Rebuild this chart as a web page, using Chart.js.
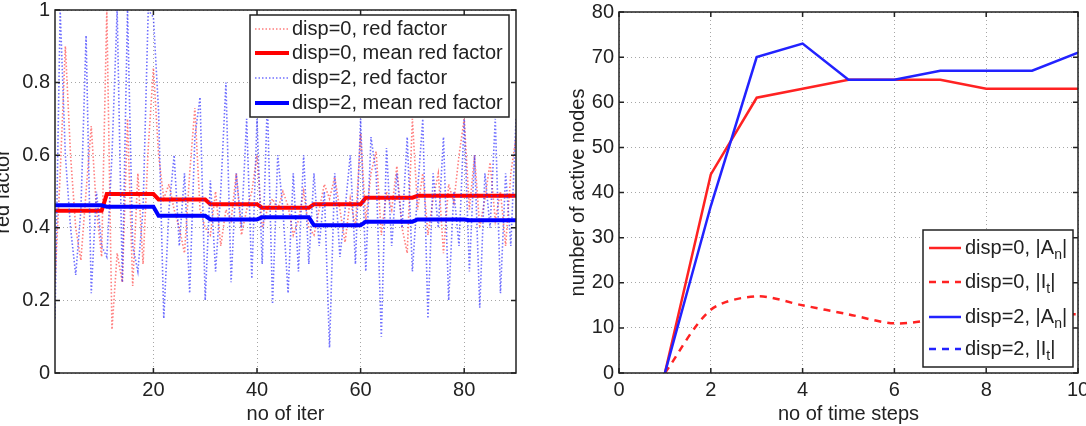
<!DOCTYPE html>
<html>
<head>
<meta charset="utf-8">
<script src="https://cdn.jsdelivr.net/npm/chart.js@4.4.0/dist/chart.umd.min.js"></script>
<style>
  body { margin: 0; background: #fff; }
  .panel { position: absolute; top: 0; }
  #left { left: 0; }
  #right { left: 540px; }
</style>
</head>
<body>
<div class="panel" id="left"><canvas id="chartLeft" width="540" height="426"></canvas></div>
<div class="panel" id="right"><canvas id="chartRight" width="546" height="426"></canvas></div>
<script>
// left panel: reduction factor per iteration
const iters = [
  1, 2, 3, 4, 5, 6, 7, 8, 9, 10, 11, 12, 13, 14, 15, 16, 17, 18, 19, 20,
  21, 22, 23, 24, 25, 26, 27, 28, 29, 30, 31, 32, 33, 34, 35, 36, 37, 38, 39, 40,
  41, 42, 43, 44, 45, 46, 47, 48, 49, 50, 51, 52, 53, 54, 55, 56, 57, 58, 59, 60,
  61, 62, 63, 64, 65, 66, 67, 68, 69, 70, 71, 72, 73, 74, 75, 76, 77, 78, 79, 80,
  81, 82, 83, 84, 85, 86, 87, 88, 89, 90,
];
const redFactor0 = [
  0.25, 0.55, 0.90, 0.60, 0.40, 0.31, 0.50, 0.68, 0.45, 0.32,
  1.00, 0.12, 0.33, 0.25, 0.70, 0.24, 0.55, 0.30, 0.62, 0.84,
  0.60, 0.48, 0.52, 0.45, 0.40, 0.33, 0.55, 0.73, 0.45, 0.40,
  0.38, 0.50, 0.35, 0.45, 0.42, 0.55, 0.38, 0.45, 0.50, 0.60,
  0.40, 0.45, 0.48, 0.45, 0.50, 0.46, 0.38, 0.42, 0.50, 0.40,
  0.38, 0.45, 0.52, 0.48, 0.54, 0.45, 0.36, 0.48, 0.40, 0.66,
  0.42, 0.55, 0.61, 0.38, 0.50, 0.45, 0.57, 0.40, 0.33, 0.70,
  0.45, 0.55, 0.38, 0.48, 0.55, 0.33, 0.52, 0.47, 0.60, 0.70,
  0.45, 0.60, 0.40, 0.48, 0.58, 0.42, 0.50, 0.35, 0.55, 0.65,
];
const redFactor2 = [
  0.15, 1.00, 0.60, 0.40, 0.27, 0.45, 0.93, 0.22, 0.50, 0.35,
  0.32, 0.60, 1.00, 0.25, 1.00, 0.35, 0.28, 0.45, 1.00, 0.98,
  0.72, 0.15, 0.45, 0.60, 0.35, 0.55, 0.22, 0.65, 0.76, 0.20,
  0.53, 0.28, 0.50, 0.80, 0.25, 0.55, 0.40, 0.70, 0.26, 0.70,
  0.30, 0.75, 0.19, 0.60, 0.45, 0.22, 0.55, 0.28, 0.60, 0.30,
  0.55, 0.35, 0.50, 0.07, 0.55, 0.32, 0.45, 0.60, 0.30, 0.70,
  0.28, 0.65, 0.55, 0.10, 0.62, 0.35, 0.55, 0.40, 0.65, 0.28,
  0.50, 0.70, 0.15, 0.55, 0.40, 0.65, 0.20, 0.50, 0.35, 0.70,
  0.28, 0.60, 0.18, 0.55, 0.40, 0.70, 0.22, 0.55, 0.35, 0.70,
];
// mean red factor, one value per block of 10 iterations
const meanBlocks0 = [0.447, 0.493, 0.478, 0.465, 0.455, 0.465, 0.483, 0.488, 0.488];
const meanBlocks2 = [0.462, 0.458, 0.433, 0.423, 0.429, 0.407, 0.417, 0.423, 0.421];
const iterTicks = [20, 40, 60, 80];

// right panel: active nodes per time step
const steps = [1, 2, 3, 4, 5, 6, 7, 8, 9, 10];
const activeA0 = [0, 44, 61, 63, 65, 65, 65, 63, 63, 63];
const activeI0 = [0, 14, 17, 15, 13, 11, 12, 13, 13, 13];
const activeA2 = [0, 37, 70, 73, 65, 65, 67, 67, 67, 71];
const activeI2 = [null, null, null, null, null, null, null, null, null, null];

Chart.defaults.font.family = "'Liberation Sans', Arial, sans-serif";
Chart.defaults.font.size = 20;
Chart.defaults.color = "#222";

const pts = (xs, ys) => xs.map((x, i) => ({ x: x, y: ys[i] }));
const expand = (blocks) => iters.map((i) => blocks[Math.floor((i - 1) / 10)]);

// box round the axes with inward ticks, matlab style
const frame = {
  id: "frame",
  afterDatasetsDraw(chart) {
    const { ctx, chartArea: a, scales } = chart;
    ctx.save();
    ctx.strokeStyle = "#222";
    ctx.lineWidth = 1.5;
    ctx.beginPath();
    scales.x.ticks.forEach((t) => {
      const px = scales.x.getPixelForValue(t.value);
      ctx.moveTo(px, a.bottom);
      ctx.lineTo(px, a.bottom - 5);
      ctx.moveTo(px, a.top);
      ctx.lineTo(px, a.top + 5);
    });
    scales.y.ticks.forEach((t) => {
      const py = scales.y.getPixelForValue(t.value);
      ctx.moveTo(a.left, py);
      ctx.lineTo(a.left + 5, py);
      ctx.moveTo(a.right, py);
      ctx.lineTo(a.right - 5, py);
    });
    ctx.stroke();
    ctx.strokeRect(a.left, a.top, a.right - a.left, a.bottom - a.top);
    ctx.restore();
  },
};

// legend box placed inside the plot
const boxLegend = {
  id: "boxLegend",
  afterDraw(chart, args, opts) {
    const ctx = chart.ctx;
    ctx.save();
    ctx.fillStyle = "#fff";
    ctx.fillRect(opts.x, opts.y, opts.w, opts.h);
    ctx.strokeStyle = "#222";
    ctx.lineWidth = 1.5;
    ctx.strokeRect(opts.x, opts.y, opts.w, opts.h);
    chart.data.datasets.forEach((ds, i) => {
      const y = opts.rows[i];
      ctx.strokeStyle = ds.borderColor;
      ctx.lineWidth = ds.borderWidth;
      ctx.setLineDash(ds.borderDash || []);
      ctx.beginPath();
      ctx.moveTo(opts.sx0, y);
      ctx.lineTo(opts.sx1, y);
      ctx.stroke();
      ctx.setLineDash([]);
      ctx.fillStyle = "#222";
      ctx.textBaseline = "middle";
      let x = opts.tx;
      ds.label.split(/(_\w)/).forEach((part) => {
        if (part.startsWith("_")) {
          ctx.font = "14px 'Liberation Sans', Arial, sans-serif";
          ctx.fillText(part.slice(1), x, y + 7);
          x += ctx.measureText(part.slice(1)).width;
        } else {
          ctx.font = "20px 'Liberation Sans', Arial, sans-serif";
          ctx.fillText(part, x, y);
          x += ctx.measureText(part).width;
        }
      });
    });
    ctx.restore();
  },
};

const gridStyle = {
  color: "rgba(0,0,0,0.35)",
  lineWidth: 1,
  drawTicks: false,
};

new Chart("chartLeft", {
  type: "line",
  data: {
    datasets: [
      {
        label: "disp=0, red factor",
        data: pts(iters, redFactor0),
        borderColor: "rgba(255,70,70,0.7)",
        borderWidth: 1.6,
        borderDash: [1.5, 2],
        pointRadius: 0,
        order: 3,
      },
      {
        label: "disp=0, mean red factor",
        data: pts(iters, expand(meanBlocks0)),
        borderColor: "#f00",
        borderWidth: 4,
        pointRadius: 0,
        order: 2,
      },
      {
        label: "disp=2, red factor",
        data: pts(iters, redFactor2),
        borderColor: "rgba(50,50,255,0.7)",
        borderWidth: 1.6,
        borderDash: [1.5, 2],
        pointRadius: 0,
        order: 1,
      },
      {
        label: "disp=2, mean red factor",
        data: pts(iters, expand(meanBlocks2)),
        borderColor: "#00f",
        borderWidth: 4,
        pointRadius: 0,
        order: 0,
      },
    ],
  },
  options: {
    responsive: false,
    animation: false,
    layout: { padding: { top: 10, right: 24, bottom: 0, left: 0 } },
    plugins: {
      legend: { display: false },
      tooltip: { enabled: false },
      boxLegend: {
        x: 250, y: 15, w: 259, h: 102,
        rows: [29, 53, 78, 103],
        sx0: 255, sx1: 289, tx: 292,
      },
    },
    scales: {
      x: {
        type: "linear",
        min: 1,
        max: 90,
        afterBuildTicks: function (scale) {
          scale.ticks = iterTicks.map((v) => ({ value: v }));
        },
        afterFit: function (scale) {
          scale.height = 53;
          scale.paddingLeft = 0;
          scale.paddingRight = 0;
        },
        grid: gridStyle,
        border: { display: false, dash: [1, 3] },
        ticks: { padding: 5, maxRotation: 0 },
        title: { display: true, text: "no of iter", padding: { top: 0, bottom: 0 } },
      },
      y: {
        min: 0,
        max: 1,
        ticks: {
          stepSize: 0.2,
          padding: 5,
          callback: function (value) {
            return String(Math.round(value * 10) / 10);
          },
        },
        afterFit: function (scale) {
          scale.width = 55;
          scale.paddingTop = 0;
          scale.paddingBottom = 0;
        },
        grid: gridStyle,
        border: { display: false, dash: [1, 3] },
        title: { display: true, text: "red factor", padding: { top: -9, bottom: 0 } },
      },
    },
  },
  plugins: [frame, boxLegend],
});

new Chart("chartRight", {
  type: "line",
  data: {
    datasets: [
      {
        label: "disp=0, |A_n|",
        data: pts(steps, activeA0),
        borderColor: "#f22",
        borderWidth: 2.5,
        pointRadius: 0,
        order: 3,
      },
      {
        label: "disp=0, |I_t|",
        data: pts(steps, activeI0),
        borderColor: "#f22",
        borderWidth: 2.5,
        borderDash: [7, 6],
        tension: 0.3,
        pointRadius: 0,
        order: 2,
      },
      {
        label: "disp=2, |A_n|",
        data: pts(steps, activeA2),
        borderColor: "#22f",
        borderWidth: 2.5,
        pointRadius: 0,
        order: 1,
      },
      {
        label: "disp=2, |I_t|",
        data: pts(steps, activeI2),
        borderColor: "#22f",
        borderWidth: 2.5,
        borderDash: [7, 6],
        pointRadius: 0,
        order: 0,
      },
    ],
  },
  options: {
    responsive: false,
    animation: false,
    layout: { padding: { top: 12, right: 8, bottom: 0, left: 0 } },
    plugins: {
      legend: { display: false },
      tooltip: { enabled: false },
      boxLegend: {
        x: 383, y: 230, w: 150, h: 137,
        rows: [248, 282, 317, 349],
        sx0: 389, sx1: 421, tx: 425,
      },
    },
    scales: {
      x: {
        type: "linear",
        min: 0,
        max: 10,
        ticks: { stepSize: 2, padding: 5, maxRotation: 0 },
        afterFit: function (scale) {
          scale.height = 53;
          scale.paddingLeft = 0;
          scale.paddingRight = 0;
        },
        grid: gridStyle,
        border: { display: false, dash: [1, 3] },
        title: { display: true, text: "no of time steps", padding: { top: 0, bottom: 0 } },
      },
      y: {
        min: 0,
        max: 80,
        ticks: { stepSize: 10, padding: 5 },
        afterFit: function (scale) {
          scale.width = 79;
          scale.paddingTop = 0;
          scale.paddingBottom = 0;
        },
        grid: gridStyle,
        border: { display: false, dash: [1, 3] },
        title: { display: true, text: "number of active nodes", padding: { top: 26, bottom: 0 } },
      },
    },
  },
  plugins: [frame, boxLegend],
});
</script>
</body>
</html>
